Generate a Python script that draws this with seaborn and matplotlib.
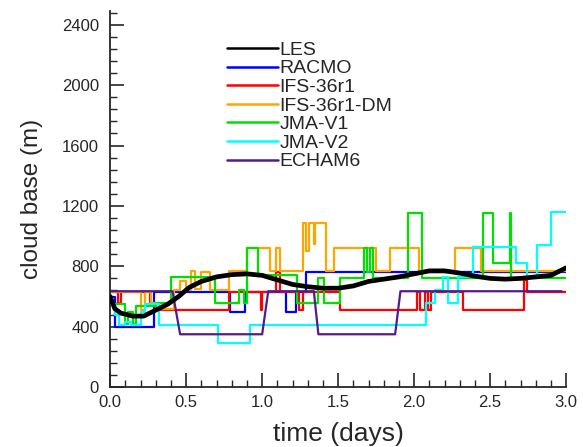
import numpy as np
import pandas as pd
import matplotlib
matplotlib.use('Agg')
import matplotlib.pyplot as plt
from matplotlib.ticker import MultipleLocator
import seaborn as sns

sns.set_style('ticks')
plt.rcParams['font.family'] = ['Liberation Sans', 'DejaVu Sans']

# LES (smooth curve)
les_t = [0.0, 0.03, 0.07, 0.15, 0.22, 0.3, 0.38, 0.45, 0.52, 0.6, 0.7, 0.8, 0.9, 1.0,
         1.1, 1.2, 1.3, 1.4, 1.5, 1.6, 1.7, 1.8, 1.9, 2.0, 2.1, 2.2, 2.3, 2.4, 2.5,
         2.6, 2.7, 2.8, 2.9, 3.0]
les_v = [600, 520, 490, 470, 470, 510, 550, 600, 660, 700, 730, 745, 750, 740,
         710, 680, 665, 655, 655, 670, 700, 715, 730, 750, 770, 770, 755, 735, 720,
         715, 720, 730, 740, 790]

# step series: change times and levels
racmo_t = [0, 0.03, 0.29, 0.79, 0.89, 1.16, 1.22, 1.29, 3.0]
racmo_v = [600, 400, 630, 500, 630, 500, 630, 765, 765]

ifs_t = [0, 0.05, 0.07, 0.26, 0.30, 0.78, 0.99, 1.00, 1.09, 1.12, 1.24, 1.27, 1.51,
         2.02, 2.04, 2.07, 2.09, 2.11, 2.32, 2.72, 2.74, 3.0]
ifs_v = [630, 560, 630, 560, 510, 630, 510, 630, 765, 630, 510, 630, 510,
         630, 510, 630, 510, 630, 510, 710, 630, 630]

dm_t = [0, 0.2, 0.23, 0.27, 0.30, 0.42, 0.46, 0.5, 0.53, 0.56, 0.6, 0.66, 0.78, 0.9,
        1.05, 1.09, 1.12, 1.27, 1.29, 1.31, 1.34, 1.35, 1.42, 1.47, 1.75, 1.84, 2.03,
        2.27, 2.44, 3.0]
dm_v = [630, 510, 630, 560, 520, 640, 700, 640, 770, 650, 760, 640, 770, 920,
        770, 920, 770, 1090, 900, 1090, 950, 1090, 770, 920, 770, 920, 770,
        920, 770, 770]

jma1_t = [0, 0.1, 0.12, 0.15, 0.17, 0.3, 0.4, 0.69, 0.85, 0.88, 0.9, 0.97, 1.23,
          1.37, 1.41, 1.51, 1.67, 1.69, 1.71, 1.73, 1.96, 2.05, 2.45, 2.52, 2.63,
          2.64, 3.0]
jma1_v = [550, 420, 500, 420, 540, 560, 730, 560, 640, 560, 920, 745, 555,
          720, 555, 720, 920, 760, 920, 720, 1150, 725, 1150, 825, 1150,
          725, 725]

jma2_t = [0, 0.03, 0.06, 0.1, 0.14, 0.2, 0.23, 0.32, 0.71, 0.92, 2.08, 2.14, 2.19,
          2.22, 2.29, 2.39, 2.67, 2.74, 2.81, 2.9, 3.0]
jma2_v = [550, 480, 410, 430, 410, 500, 550, 410, 290, 410, 555, 640, 730,
          555, 730, 925, 825, 720, 940, 1160, 1160]

# ECHAM6 has sloped transitions
echam_t = [0, 0.41, 0.46, 1.0, 1.04, 1.34, 1.37, 1.875, 1.91, 2.97]
echam_v = [635, 635, 350, 350, 635, 635, 350, 350, 635, 635]

fig = plt.figure(figsize=(5.83, 4.47), dpi=100)
ax = fig.add_axes([0.189, 0.134, 0.782, 0.841])

lw = 1.6
sns.lineplot(x=les_t, y=les_v, color='black', lw=3.4, label='LES', ax=ax,
             estimator=None, sort=False, zorder=5)
sns.lineplot(x=racmo_t, y=racmo_v, color='#0000ff', lw=lw, label='RACMO', ax=ax,
             estimator=None, sort=False, drawstyle='steps-post')
sns.lineplot(x=ifs_t, y=ifs_v, color='#ff0000', lw=lw, label='IFS-36r1', ax=ax,
             estimator=None, sort=False, drawstyle='steps-post')
sns.lineplot(x=dm_t, y=dm_v, color='#ffa500', lw=lw, label='IFS-36r1-DM', ax=ax,
             estimator=None, sort=False, drawstyle='steps-post')
sns.lineplot(x=jma1_t, y=jma1_v, color='#00e000', lw=lw, label='JMA-V1', ax=ax,
             estimator=None, sort=False, drawstyle='steps-post')
sns.lineplot(x=jma2_t, y=jma2_v, color='#00ffff', lw=lw, label='JMA-V2', ax=ax,
             estimator=None, sort=False, drawstyle='steps-post')
sns.lineplot(x=echam_t, y=echam_v, color='#551a8b', lw=lw, label='ECHAM6', ax=ax,
             estimator=None, sort=False)

ax.set_xlim(0, 3.0)
ax.set_ylim(0, 2490)
ax.xaxis.set_major_locator(MultipleLocator(0.5))
ax.xaxis.set_minor_locator(MultipleLocator(0.1))
ax.yaxis.set_major_locator(MultipleLocator(400))
ax.yaxis.set_minor_locator(MultipleLocator(80))
ax.set_xticklabels([f'{v:.1f}' for v in ax.get_xticks()])
ax.tick_params(which='major', direction='in', length=10, width=1.2, labelsize=12)
ax.tick_params(which='minor', direction='in', length=5, width=1.0)
ax.tick_params(axis='y', pad=8)
ax.tick_params(axis='x', pad=6)
sns.despine(ax=ax)
for s in ['left', 'bottom']:
    ax.spines[s].set_linewidth(1.3)

ax.set_xlabel('time (days)', fontsize=19, labelpad=8)
ax.set_ylabel('cloud base (m)', fontsize=17.5, labelpad=14)

leg = ax.legend(frameon=False, loc='upper left', bbox_to_anchor=(0.256, 0.92),
                handlelength=2.65, handletextpad=0.05, labelspacing=0.05, fontsize=14,
                borderaxespad=0, borderpad=0)
for h in leg.get_lines():
    h.set_linewidth(1.8)

fig.savefig('out.png', dpi=100)
